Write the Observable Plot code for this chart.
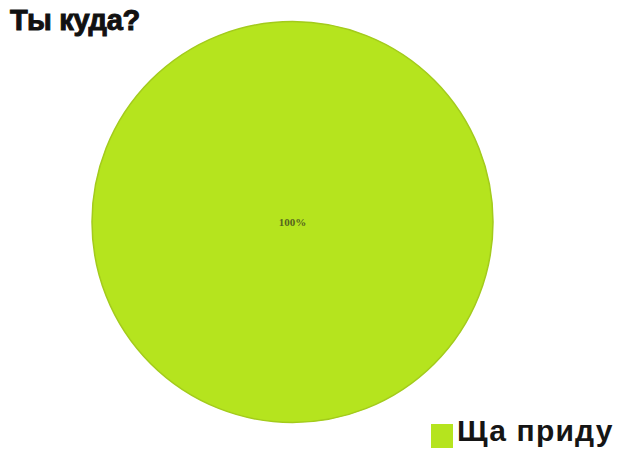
<!DOCTYPE html>
<html>
<head>
<meta charset="utf-8">
<script src="https://cdn.jsdelivr.net/npm/d3@7"></script>
<script src="https://cdn.jsdelivr.net/npm/@observablehq/plot@0.6"></script>
<style>
  html, body { margin: 0; padding: 0; background: #fff; }
  #wrap { position: relative; width: 620px; height: 455px; overflow: hidden; }
  #title { position: absolute; left: 10px; top: 4px; font: bold 29px "Liberation Sans", Arial, sans-serif; color: #111; white-space: nowrap; -webkit-text-stroke: 1px #111; letter-spacing: -0.3px; }
  #legend { position: absolute; left: 431px; top: 414px; display: flex; align-items: center; font: bold 30px "Liberation Sans", Arial, sans-serif; color: #151515; white-space: nowrap; letter-spacing: 1.2px; }
  #legend .sw { width: 22px; height: 24px; margin-right: 4px; margin-top: 10px; }
  #chart { position: absolute; left: 0; top: 0; }
</style>
</head>
<body>
<div id="wrap">
  <div id="chart"></div>
  <div id="title"></div>
  <div id="legend"></div>
</div>
<script>
const titleText = "Ты куда?";
const categories = ["Ща приду"];
const values = [100];
const colors = ["#b5e41e"];

const data = categories.map((c, i) => ({category: c, value: values[i], color: colors[i]}));
const total = d3.sum(values);
const arcs = d3.pie().sort(null).value(d => d.value)(data);

function pieMark(index, scales, vals, dims) {
  const cx = scales.x(0), cy = scales.y(0);
  const r = Math.abs(scales.x(1) - scales.x(0));
  const arc = d3.arc().innerRadius(0).outerRadius(r);
  const g = d3.create("svg:g").attr("transform", `translate(${cx},${cy})`);
  g.selectAll("path").data(arcs).join("path")
    .attr("d", arc)
    .attr("fill", d => d.data.color)
    .attr("stroke", "#a3cb1c")
    .attr("stroke-width", 1.5);
  g.selectAll("text").data(arcs).join("text")
    .attr("transform", d => {
      const full = d.endAngle - d.startAngle >= 2 * Math.PI - 1e-9;
      const [x, y] = full ? [0, 0] : arc.centroid(d);
      return `translate(${x},${y})`;
    })
    .attr("text-anchor", "middle")
    .attr("dy", "0.35em")
    .attr("font-family", "Liberation Serif, serif")
    .attr("font-weight", "bold")
    .attr("font-size", 11)
    .attr("fill", "#55651f")
    .text(d => Math.round(d.data.value / total * 100) + "%");
  return g.node();
}

const chart = Plot.plot({
  width: 620,
  height: 455,
  margin: 0,
  x: {domain: [-1, 1], range: [92, 493], axis: null},
  y: {domain: [-1, 1], range: [422, 22], axis: null},
  style: {background: "transparent"},
  marks: [pieMark]
});
document.getElementById("chart").appendChild(chart);
document.getElementById("title").textContent = titleText;

const legend = document.getElementById("legend");
data.forEach(d => {
  const sw = document.createElement("div");
  sw.className = "sw";
  sw.style.background = d.color;
  const t = document.createElement("span");
  t.textContent = d.category;
  legend.appendChild(sw);
  legend.appendChild(t);
});
</script>
</body>
</html>
